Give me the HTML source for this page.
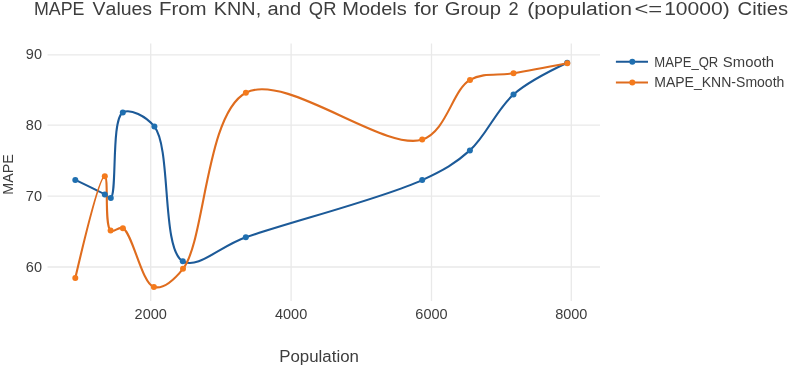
<!DOCTYPE html>
<html><head><meta charset="utf-8"><style>
html,body{margin:0;padding:0;background:#fff;overflow:hidden}
svg{display:block;font-family:"Liberation Sans",sans-serif;font-kerning:none;will-change:transform}
</style></head><body>
<svg width="789" height="365" viewBox="0 0 789 365">
<rect width="789" height="365" fill="#fff"/>
<g stroke="#e9e9e9" stroke-width="1.3"><line x1="150.7" y1="43.5" x2="150.7" y2="301" /><line x1="291.1" y1="43.5" x2="291.1" y2="301" /><line x1="431.5" y1="43.5" x2="431.5" y2="301" /><line x1="571.3" y1="43.5" x2="571.3" y2="301" /><line x1="47.5" y1="54.8" x2="600" y2="54.8" /><line x1="47.5" y1="125.1" x2="600" y2="125.1" /><line x1="47.5" y1="196.1" x2="600" y2="196.1" /><line x1="47.5" y1="267.0" x2="600" y2="267.0" /></g>
<g fill="#3d3d3d" font-size="14.5"><text x="42" y="59.4" text-anchor="end">90</text><text x="42" y="129.7" text-anchor="end">80</text><text x="42" y="200.7" text-anchor="end">70</text><text x="42" y="271.6" text-anchor="end">60</text><text x="150.7" y="318.5" text-anchor="middle">2000</text><text x="291.1" y="318.5" text-anchor="middle">4000</text><text x="431.5" y="318.5" text-anchor="middle">6000</text><text x="571.3" y="318.5" text-anchor="middle">8000</text></g>
<g fill="#3d3d3d"><text id="t1" x="33.98" y="15.2" font-size="17.6" textLength="50.51" lengthAdjust="spacingAndGlyphs">MAPE</text><text id="t2" x="92.58" y="15.2" font-size="17.6" textLength="59.50" lengthAdjust="spacingAndGlyphs">Values</text><text id="t3" x="158.92" y="15.2" font-size="17.6" textLength="47.69" lengthAdjust="spacingAndGlyphs">From</text><text id="t4" x="213.88" y="15.2" font-size="17.6" textLength="47.31" lengthAdjust="spacingAndGlyphs">KNN,</text><text id="t5" x="267.55" y="15.2" font-size="17.6" textLength="33.55" lengthAdjust="spacingAndGlyphs">and</text><text id="t6" x="308.85" y="15.2" font-size="17.6" textLength="27.55" lengthAdjust="spacingAndGlyphs">QR</text><text id="t7" x="342.22" y="15.2" font-size="17.6" textLength="64.57" lengthAdjust="spacingAndGlyphs">Models</text><text id="t8" x="414.37" y="15.2" font-size="17.6" textLength="24.07" lengthAdjust="spacingAndGlyphs">for</text><text id="t9" x="444.72" y="15.2" font-size="17.6" textLength="56.27" lengthAdjust="spacingAndGlyphs">Group</text><text id="t10" x="508.53" y="15.2" font-size="17.6" textLength="10.09" lengthAdjust="spacingAndGlyphs">2</text><text id="t11" x="527.29" y="15.2" font-size="17.6" textLength="104.70" lengthAdjust="spacingAndGlyphs">(population</text><text id="t12" x="634.45" y="15.2" font-size="17.6" textLength="27.84" lengthAdjust="spacingAndGlyphs">&lt;=</text><text id="t13" x="664.15" y="15.2" font-size="17.6" textLength="65.62" lengthAdjust="spacingAndGlyphs">10000)</text><text id="t14" x="737.63" y="15.2" font-size="17.6" textLength="50.54" lengthAdjust="spacingAndGlyphs">Cities</text><text id="l1" x="654.35" y="66.6" font-size="14" textLength="63.98" lengthAdjust="spacingAndGlyphs">MAPE_QR</text><text id="l2" x="722.87" y="66.6" font-size="14" textLength="51.17" lengthAdjust="spacingAndGlyphs">Smooth</text><text id="l3" x="654.21" y="87.3" font-size="14" textLength="130.17" lengthAdjust="spacingAndGlyphs">MAPE_KNN-Smooth</text><text id="xt" x="279.23" y="361.7" font-size="15.6" textLength="79.71" lengthAdjust="spacingAndGlyphs">Population</text></g>
<text transform="translate(12.6,194.7) rotate(-90)" font-size="13.8" fill="#3d3d3d" textLength="40.4" lengthAdjust="spacingAndGlyphs">MAPE</text>
<path d="M75.3,179.9Q98.72,191.14 104.8,194.4C107.59,195.9 108.99,198.78 110.8,197.9C117.17,194.81 111.07,119 122.8,112.5C130.23,108.38 145.8,115.95 154.4,126.6C171.55,147.84 161.25,249.54 182.8,261.3C197.88,269.53 219.36,246.62 245.8,237.3C289.65,221.85 382.69,198.47 422.2,180.1C443.95,169.99 455.39,163.45 469.9,150.4C486.19,135.74 496.62,109.33 513.5,94.5Q529.33,80.59 567.2,62.8" fill="none" stroke="#1c5a98" stroke-width="2.1"/>
<path d="M75.3,278Q99.12,175.8 104.8,176.3C108.88,176.66 104.19,225.87 110.6,230.6C113.67,232.87 118.68,226.18 122.9,228.2C132.61,232.85 141.72,283.72 153.9,287C162.65,289.36 173.52,280.59 183,268.8C205.14,241.28 205.55,113.91 245.9,92.7C285.76,71.75 384.17,152.11 422.2,139.6C446.83,131.5 452.26,90.13 470,79.9C483.46,72.14 498.25,75.87 513.5,73.3Q530.5,70.43 567.3,63.3" fill="none" stroke="#df6c1e" stroke-width="2.1"/>
<circle cx="75.3" cy="179.9" r="3.0" fill="#1f6fb0"/><circle cx="104.8" cy="194.4" r="3.0" fill="#1f6fb0"/><circle cx="110.8" cy="197.9" r="3.0" fill="#1f6fb0"/><circle cx="122.8" cy="112.5" r="3.0" fill="#1f6fb0"/><circle cx="154.4" cy="126.6" r="3.0" fill="#1f6fb0"/><circle cx="182.8" cy="261.3" r="3.0" fill="#1f6fb0"/><circle cx="245.8" cy="237.3" r="3.0" fill="#1f6fb0"/><circle cx="422.2" cy="180.1" r="3.0" fill="#1f6fb0"/><circle cx="469.9" cy="150.4" r="3.0" fill="#1f6fb0"/><circle cx="513.5" cy="94.5" r="3.0" fill="#1f6fb0"/><circle cx="567.2" cy="62.8" r="3.0" fill="#1f6fb0"/>
<circle cx="75.3" cy="278.0" r="3.0" fill="#f47a1c"/><circle cx="104.8" cy="176.3" r="3.0" fill="#f47a1c"/><circle cx="110.6" cy="230.6" r="3.0" fill="#f47a1c"/><circle cx="122.9" cy="228.2" r="3.0" fill="#f47a1c"/><circle cx="153.9" cy="287.0" r="3.0" fill="#f47a1c"/><circle cx="183.0" cy="268.8" r="3.0" fill="#f47a1c"/><circle cx="245.9" cy="92.7" r="3.0" fill="#f47a1c"/><circle cx="422.2" cy="139.6" r="3.0" fill="#f47a1c"/><circle cx="470.0" cy="79.9" r="3.0" fill="#f47a1c"/><circle cx="513.5" cy="73.3" r="3.0" fill="#f47a1c"/><circle cx="567.3" cy="63.3" r="3.0" fill="#f47a1c"/>
<g stroke-width="2"><line x1="615.9" y1="61.7" x2="648" y2="61.7" stroke="#1c5a98"/><circle cx="632.3" cy="61.7" r="3.0" fill="#1f6fb0"/>
<line x1="615.9" y1="82.5" x2="648" y2="82.5" stroke="#df6c1e"/><circle cx="632.3" cy="82.5" r="3.0" fill="#f47a1c"/></g>
</svg>
</body></html>
